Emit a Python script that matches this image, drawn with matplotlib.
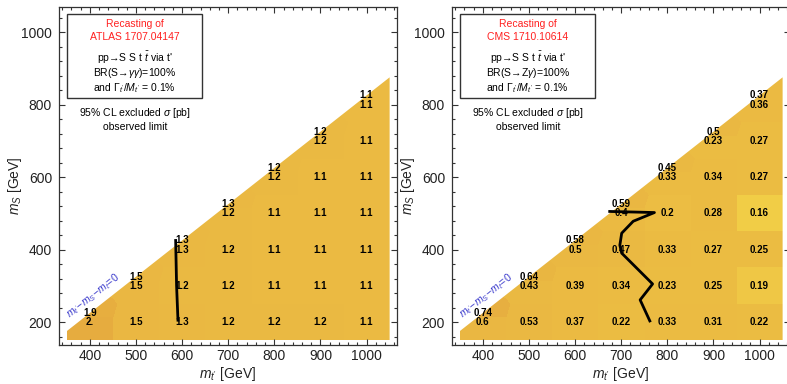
import numpy as np
import matplotlib
matplotlib.use("Agg")
import matplotlib.pyplot as plt
from matplotlib.colors import LinearSegmentedColormap, Normalize
from matplotlib.patches import Polygon, Rectangle
from matplotlib.ticker import MultipleLocator

plt.rcParams['font.family'] = ['Liberation Sans', 'DejaVu Sans']
plt.rcParams['mathtext.fontset'] = 'custom'
plt.rcParams['mathtext.rm'] = 'Liberation Sans'
plt.rcParams['mathtext.it'] = 'Liberation Sans:italic'
plt.rcParams['mathtext.bf'] = 'Liberation Sans:bold'

# data: t' masses, scalar masses, excluded cross sections [pb]
mt_vals = [400, 500, 600, 700, 800, 900, 1000]
ms_start = 200   # each column starts at m_S = 200, step 100
m_top = 175      # diagonal points sit at m_S = m_t' - m_t

atlas_cols = [[2.0],
              [1.5, 1.5],
              [1.3, 1.2, 1.3],
              [1.2, 1.2, 1.2, 1.2],
              [1.2, 1.1, 1.1, 1.1, 1.2],
              [1.2, 1.1, 1.1, 1.1, 1.1, 1.2],
              [1.1, 1.1, 1.1, 1.1, 1.1, 1.1, 1.1]]
atlas_diag = [1.9, 1.5, 1.3, 1.3, 1.2, 1.2, 1.1]

cms_cols = [[0.6],
            [0.53, 0.43],
            [0.37, 0.39, 0.5],
            [0.22, 0.34, 0.47, 0.4],
            [0.33, 0.23, 0.33, 0.2, 0.33],
            [0.31, 0.25, 0.27, 0.28, 0.34, 0.23],
            [0.22, 0.19, 0.25, 0.16, 0.27, 0.27, 0.36]]
cms_diag = [0.74, 0.64, 0.58, 0.59, 0.45, 0.5, 0.37]

# observed limit contours (m_t', m_S)
atlas_lim_x = [591, 588, 586]
atlas_lim_y = [205, 300, 425]
cms_lim_x = [675, 772, 726, 701, 697, 701, 768, 741, 762]
cms_lim_y = [505, 502, 478, 445, 412, 390, 305, 261, 203]

cmap = LinearSegmentedColormap.from_list(
    "sig", [(0.0, "#F2CF47"), (0.065, "#EFC745"), (0.075, "#ECBD43"),
            (0.75, "#EAB742"), (1.0, "#E6AC3F")])


def fmt(v):
    s = f"{v:g}"
    if '.' not in s:
        s += '.'
    return s


def points(cols, diag):
    px, py, pv = [], [], []
    for x, col, dv in zip(mt_vals, cols, diag):
        for i, v in enumerate(col):
            px.append(x); py.append(ms_start + 100 * i); pv.append(v)
        px.append(x); py.append(x - m_top); pv.append(dv)
    return np.array(px, float), np.array(py, float), np.array(pv, float)


def panel(ax, cols, diag, norm, limx, limy, title2, decay):
    px, py, pv = points(cols, diag)
    gx, gy = np.meshgrid(np.arange(350.5, 1050, 1.0), np.arange(150.5, 875, 1.0))
    best = np.full(gx.shape, np.inf)
    Z = np.zeros(gx.shape)
    for x, y, v in zip(px, py, pv):
        d = (gx - x) ** 2 + (gy - y) ** 2
        m = d < best
        best[m] = d[m]
        Z[m] = v
    im = ax.imshow(Z, extent=(350, 1050, 150, 875), origin='lower', cmap=cmap,
                   norm=norm, aspect='auto', interpolation='nearest', zorder=1)
    clip = Polygon([(350, 150), (1050, 150), (1050, 875), (350, 175)],
                   transform=ax.transData, facecolor='none', edgecolor='none')
    ax.add_patch(clip)
    im.set_clip_path(clip)

    for x, col, dv in zip(mt_vals, cols, diag):
        for i, v in enumerate(col):
            ax.text(x, ms_start + 100 * i, fmt(v), ha='center', va='center',
                    fontsize=7, fontweight='bold', zorder=4)
        ax.text(x, x - m_top, fmt(dv), ha='center', va='center',
                fontsize=7, fontweight='bold', zorder=4)

    ax.plot(limx, limy, color='black', lw=2, zorder=3)

    ax.text(408, 274, r"$m_{t'}\!-\!m_S\!-\!m_t\!=\!0$", color='#3a3acc',
            fontsize=7.5, rotation=38, ha='center', va='center', zorder=4)

    ax.add_patch(Rectangle((0.024, 0.731), 0.399, 0.248, transform=ax.transAxes,
                           facecolor='white', edgecolor='#333333', lw=1, zorder=5))
    cx = 0.224
    ax.text(cx, 0.950, "Recasting of", color='#ff2020', fontsize=7.5,
            ha='center', va='center', transform=ax.transAxes, zorder=6)
    ax.text(cx, 0.911, title2, color='#ff2020', fontsize=7.5,
            ha='center', va='center', transform=ax.transAxes, zorder=6)
    ax.text(cx, 0.849, r"pp→S S t $\bar{t}$ via t'", fontsize=7.5,
            ha='center', va='center', transform=ax.transAxes, zorder=6)
    ax.text(cx, 0.805, decay, fontsize=7.5,
            ha='center', va='center', transform=ax.transAxes, zorder=6)
    ax.text(cx, 0.760, r"and $\Gamma_{t'}/M_{t'}$ = 0.1%", fontsize=7.5,
            ha='center', va='center', transform=ax.transAxes, zorder=6)
    ax.text(cx, 0.686, r"95% CL excluded $\sigma$ [pb]", fontsize=7.5,
            ha='center', va='center', transform=ax.transAxes, zorder=6)
    ax.text(cx, 0.645, "observed limit", fontsize=7.5,
            ha='center', va='center', transform=ax.transAxes, zorder=6)

    ax.set_xlim(333, 1066)
    ax.set_ylim(136.6, 1069)
    ax.xaxis.set_major_locator(MultipleLocator(100))
    ax.xaxis.set_minor_locator(MultipleLocator(20))
    ax.yaxis.set_major_locator(MultipleLocator(200))
    ax.yaxis.set_minor_locator(MultipleLocator(40))
    ax.tick_params(which='both', direction='in', top=True, right=True,
                   color='#333333', width=0.8, labelsize=10, labelcolor='#222222')
    ax.tick_params(which='major', length=4)
    ax.tick_params(which='minor', length=2)
    ax.tick_params(axis='x', pad=3)
    ax.tick_params(axis='y', pad=5)
    for s in ax.spines.values():
        s.set_linewidth(0.9)
        s.set_color('#333333')
    ax.set_xlabel(r"$m_{t'}$ [GeV]", fontsize=10, color='#222222', labelpad=1)
    ax.set_ylabel(r"$m_S$ [GeV]", fontsize=10, color='#222222')
    ax.yaxis.set_label_coords(-35 / 338, 0.47)


fig = plt.figure(figsize=(7.87, 3.84), dpi=100)
axL = fig.add_axes([59 / 787, 39 / 384, 338 / 787, 338 / 384])
axR = fig.add_axes([452 / 787, 39 / 384, 338 / 787, 338 / 384])

panel(axL, atlas_cols, atlas_diag, Normalize(0.5, 2.0), atlas_lim_x, atlas_lim_y,
      "ATLAS 1707.04147", r"BR(S→$\gamma\gamma$)=100%")
panel(axR, cms_cols, cms_diag, Normalize(0.15, 0.8), cms_lim_x, cms_lim_y,
      "CMS 1710.10614", r"BR(S→Z$\gamma$)=100%")

fig.savefig("out.png", dpi=100)
